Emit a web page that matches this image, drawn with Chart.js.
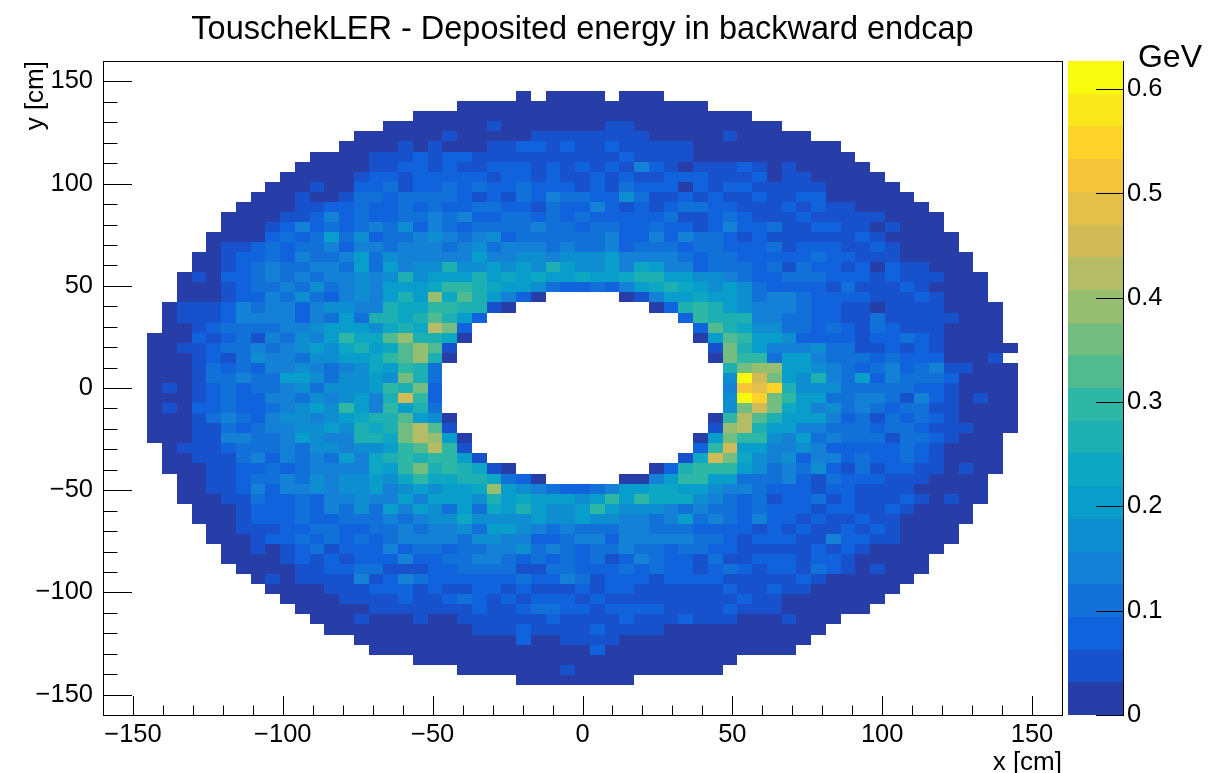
<!DOCTYPE html>
<html>
<head>
<meta charset="utf-8">
<script src="https://cdn.jsdelivr.net/npm/chart.js@4.4.0/dist/chart.umd.min.js"></script>
<style>
  html, body { margin: 0; padding: 0; background: #fff; }
</style>
</head>
<body>
<canvas id="edepChart" width="1231" height="773"></canvas>
<script>
// histogram binning: 65 x 65 bins over -160..160 cm
const nBins = 65;
const axisMin = -160;
const axisMax = 160;
const firstRow = 3;   // first filled y bin, counted from the top
const firstCol = 3;   // first filled x bin, counted from the left

// palette band of every cell, top row first ('.' = empty, 0-9 a-j = band 0..19)
// columns grouped as x bins 3-22 | 23-42 | 43-61
const cellRows = [
  '....................|.....0.0000.000.....|...................',
  '....................|.00000000000000000..|...................',
  '..................00|00000000000000000000|0..................',
  '................0000|00010000000110000000|000................',
  '..............000000|10000011111111000001|00000..............',
  '.............0000101|00011221211211111000|0000000............',
  '...........000011121|22111111111121111000|00000000...........',
  '..........0000011221|21122212121214210111|210100000..........',
  '.........00000122122|22212212112121122211|1201100000.........',
  '........000100223122|32322322212132220212|21111100000........',
  '.......0001001332333|32121324332253112121|121122000000.......',
  '......00001122322323|22332213224212123322|1112121100000......',
  '.....000011242322334|34223323232222231123|21112111110000.....',
  '.....000124232343524|32333343323322322124|22311221101000.....',
  '....0000232363523345|43452333333422424332|121111112100000....',
  '....0112323342443444|34534443433423332332|223122211210000....',
  '...00122324334635444|44644554555644443233|2222232211100000...',
  '...00123433443636455|85565658655647644233|3231322120211000...',
  '..010223434344545856|66867676676678866554|32233322212111000..',
  '..000123343534546667|99876653223246787656|53222213111210000..',
  '..00012243532454686c|7a86420.....01466766|53443222211121000..',
  '.0111243442455448779|98810.........028986|544432211011110000.',
  '.011124444243638878a|862.............2988|844332211311111000.',
  '.001233334456665787d|b2...............2a8|755332321321110000.',
  '0002123143546977ac88|70...............06a|966522221223210000.',
  '00112334345657867aca|1.................1b|8644453311212100000',
  '00012135443556679ac8|0.................0b|993664333232220001.',
  '00013232445434576983|...................8|bcc6654323423411000',
  '00013343366535565b83|...................5|jeb6584362433320000',
  '010123233453555698b2|...................4|gfh8555333332210000',
  '00012322443545648e92|...................5|jhb9663344314210100',
  '01022322345659649683|...................5|beb7645343233110000',
  '00013432455456788a65|0.................09|da86664231323210000',
  '00011323445565878bda|1.................1c|d866443332332111000',
  '00011443346544887bdc|60...............06b|995463433313321000.',
  '.01112333435545569ad|91...............29e|664454222223210000.',
  '.0011134243436478989|961.............17eb|754524423223210000.',
  '.00011223234444769b8|98710.........028999|653435213122110100.',
  '..001123343545565797|7887320.....00469966|33342132221110000..',
  '..001124244545564565|667c6543223466776654|43222122111100000..',
  '..000113223244544646|66586766656969777543|23122312111210100..',
  '...00012223243536465|36376865569655543433|2322212211210000...',
  '...00012223223334345|57555565565544346343|2422121121100000...',
  '....0011122332233434|45366543433344333222|212121121210000....',
  '....0001223232323444|43554422344244444332|122211422110000....',
  '.....001012312224233|23344534323343323322|11111212100000.....',
  '.....000012121222422|33443232323124322131|1222122100000......',
  '......00001122331112|23333113322232322123|2122132101000......',
  '.......0101111412432|22222322431222122221|111121000000.......',
  '........000011122212|11221211121221111112|11211000000........',
  '.........00001111211|23212122212111111111|2110000000.........',
  '..........0000011111|11211233221222211112|111000000..........',
  '...........000100010|01111112111121112111|0001000............',
  '............00000000|00111211112111100000|000000.............',
  '..............000000|00000200111100000000|00000..............',
  '...............00000|00000000002000000000|0000...............',
  '..................00|00000000000000000000|...................',
  '....................|.000000010000000000.|...................',
  '....................|.....00000000.......|...................'
];

const zMax = 0.627;   // top of the colour scale (GeV)
const zBands = 20;    // number of colour contours
const xTicks = [-150, -100, -50, 0, 50, 100, 150];
const yTicks = [-150, -100, -50, 0, 50, 100, 150];
const zTicks = [0, 0.1, 0.2, 0.3, 0.4, 0.5, 0.6];
const minorStep = 10;

const binW = (axisMax - axisMin) / nBins;

// build the cells (bin centre + deposited energy)
const cells = [];
cellRows.forEach((row, r) => {
  row.replace(/\|/g, '').split('').forEach((ch, c) => {
    if (ch === '.') return;
    const band = parseInt(ch, 36);
    cells.push({
      x: axisMin + (firstCol + c + 0.5) * binW,
      y: axisMax - (firstRow + r + 0.5) * binW,
      v: (band + 0.5) * zMax / zBands
    });
  });
});

// ROOT kBird palette
const birdStops = [0.0, 0.125, 0.25, 0.375, 0.5, 0.625, 0.75, 0.875, 1.0];
const birdR = [0.2082, 0.0592, 0.0780, 0.0232, 0.1802, 0.5301, 0.8186, 0.9956, 0.9764];
const birdG = [0.1664, 0.3599, 0.5041, 0.6419, 0.7178, 0.7492, 0.7328, 0.7862, 0.9832];
const birdB = [0.5293, 0.8684, 0.8385, 0.7914, 0.6425, 0.4662, 0.3499, 0.1968, 0.0539];

function birdColor(t) {
  let k = 0;
  while (k < birdStops.length - 2 && t > birdStops[k + 1]) k++;
  const f = (t - birdStops[k]) / (birdStops[k + 1] - birdStops[k]);
  const mix = a => Math.round(255 * (a[k] + (a[k + 1] - a[k]) * f));
  return `rgb(${mix(birdR)},${mix(birdG)},${mix(birdB)})`;
}

const bandColors = [];
for (let i = 0; i < zBands; i++) {
  const idx = Math.min(254, Math.floor((i + 0.99) * 255 / zBands));
  bandColors.push(birdColor(idx / 254));
}
const bandOf = v => Math.min(zBands - 1, Math.floor(v / zMax * zBands));

const fontFamily = '"Liberation Sans", Arial, Helvetica, sans-serif';
const minus = v => (v < 0 ? '\u2212' + Math.abs(v) : String(v));

// draw the histogram cells through the x / y scales
const cellPlugin = {
  id: 'cells',
  beforeDatasetsDraw(chart) {
    const {ctx, chartArea: a, scales: {x, y}} = chart;
    ctx.save();
    ctx.beginPath();
    ctx.rect(a.left, a.top, a.width, a.height);
    ctx.clip();
    chart.data.datasets[0].data.forEach(p => {
      const x0 = Math.round(x.getPixelForValue(p.x - binW / 2));
      const x1 = Math.round(x.getPixelForValue(p.x + binW / 2));
      const y0 = Math.round(y.getPixelForValue(p.y + binW / 2));
      const y1 = Math.round(y.getPixelForValue(p.y - binW / 2));
      ctx.fillStyle = bandColors[bandOf(p.v)];
      ctx.fillRect(x0, y0, x1 - x0, y1 - y0);
    });
    ctx.restore();
  }
};

// ROOT style frame, inner ticks and the colour bar
const framePlugin = {
  id: 'frame',
  afterDraw(chart) {
    const {ctx, chartArea: a, scales: {x, y, z}} = chart;
    const L = Math.round(a.left), R = Math.round(a.right);
    const T = Math.round(a.top), B = Math.round(a.bottom);
    ctx.save();
    ctx.strokeStyle = '#000';
    ctx.lineWidth = 1;
    ctx.strokeRect(L + 0.5, T + 0.5, R - L, B - T);

    ctx.beginPath();
    for (let v = axisMin; v <= axisMax; v += minorStep) {
      const px = Math.round(x.getPixelForValue(v)) + 0.5;
      ctx.moveTo(px, B);
      ctx.lineTo(px, B - (xTicks.includes(v) ? 19 : 9.5));
      const py = Math.round(y.getPixelForValue(v)) + 0.5;
      ctx.moveTo(L, py);
      ctx.lineTo(L + (yTicks.includes(v) ? 29 : 14.5), py);
    }
    ctx.stroke();

    // colour bar
    const barL = R + 6, barR = R + 61;
    for (let i = 0; i < zBands; i++) {
      const yb = Math.round(z.getPixelForValue(i * zMax / zBands));
      const yt = Math.round(z.getPixelForValue((i + 1) * zMax / zBands));
      ctx.fillStyle = bandColors[i];
      ctx.fillRect(barL, yt, barR - barL, yb - yt);
    }
    ctx.beginPath();
    ctx.moveTo(barR + 0.5, T);
    ctx.lineTo(barR + 0.5, B + 1);
    zTicks.forEach(v => {
      const py = Math.round(z.getPixelForValue(v)) + 0.5;
      ctx.moveTo(barR, py);
      ctx.lineTo(barR - 27, py);
    });
    ctx.stroke();

    ctx.fillStyle = '#000';
    ctx.font = '32px ' + fontFamily;
    ctx.textAlign = 'right';
    ctx.textBaseline = 'middle';
    ctx.fillText('GeV', R + 140, 58);
    ctx.restore();
  }
};

const tickFont = {family: fontFamily, size: 25.5, lineHeight: 1.2};
const noPad = s => { s.paddingTop = 0; s.paddingBottom = 0; s.paddingLeft = 0; s.paddingRight = 0; };

new Chart(document.getElementById('edepChart'), {
  type: 'scatter',
  data: {
    datasets: [{
      label: 'Deposited energy',
      data: cells,
      pointRadius: 0,
      pointHoverRadius: 0,
      pointHitRadius: 0
    }]
  },
  options: {
    responsive: false,
    animation: false,
    events: [],
    layout: {padding: 0},
    plugins: {
      legend: {display: false},
      tooltip: {enabled: false},
      title: {
        display: true,
        fullSize: false,
        text: 'TouschekLER - Deposited energy in backward endcap',
        color: '#000',
        font: {family: fontFamily, size: 32.5, weight: 'normal', lineHeight: 1},
        padding: {top: 14, bottom: 14.5}
      }
    },
    scales: {
      x: {
        type: 'linear',
        position: 'bottom',
        min: axisMin,
        max: axisMax,
        grid: {display: false, drawTicks: false},
        border: {display: false},
        ticks: {color: '#000', font: tickFont, padding: 5, autoSkip: false, maxRotation: 0, callback: minus},
        afterBuildTicks: s => { s.ticks = xTicks.map(v => ({value: v})); },
        afterFit: s => { s.height = 58; noPad(s); },
        title: {
          display: true, text: 'x [cm]', align: 'end', color: '#000',
          font: {family: fontFamily, size: 26, lineHeight: 0.8}, padding: 0
        }
      },
      y: {
        type: 'linear',
        position: 'left',
        min: axisMin,
        max: axisMax,
        grid: {display: false, drawTicks: false},
        border: {display: false},
        ticks: {color: '#000', font: tickFont, padding: 10, autoSkip: false, callback: minus},
        afterBuildTicks: s => { s.ticks = yTicks.map(v => ({value: v})); },
        afterFit: s => { s.width = 103; noPad(s); },
        title: {
          display: true, text: 'y [cm]', align: 'end', color: '#000',
          font: {family: fontFamily, size: 26, lineHeight: 1.2}, padding: {top: 20, bottom: 0}
        }
      },
      z: {
        type: 'linear',
        position: 'right',
        min: 0,
        max: zMax,
        grid: {display: false, drawTicks: false},
        border: {display: false},
        ticks: {color: '#000', font: tickFont, padding: 65, autoSkip: false,
                callback: v => (v === 0 ? '0' : v.toFixed(1))},
        afterBuildTicks: s => { s.ticks = zTicks.map(v => ({value: v})); },
        afterFit: s => { s.width = 169; noPad(s); }
      }
    }
  },
  plugins: [cellPlugin, framePlugin]
});
</script>
</body>
</html>
